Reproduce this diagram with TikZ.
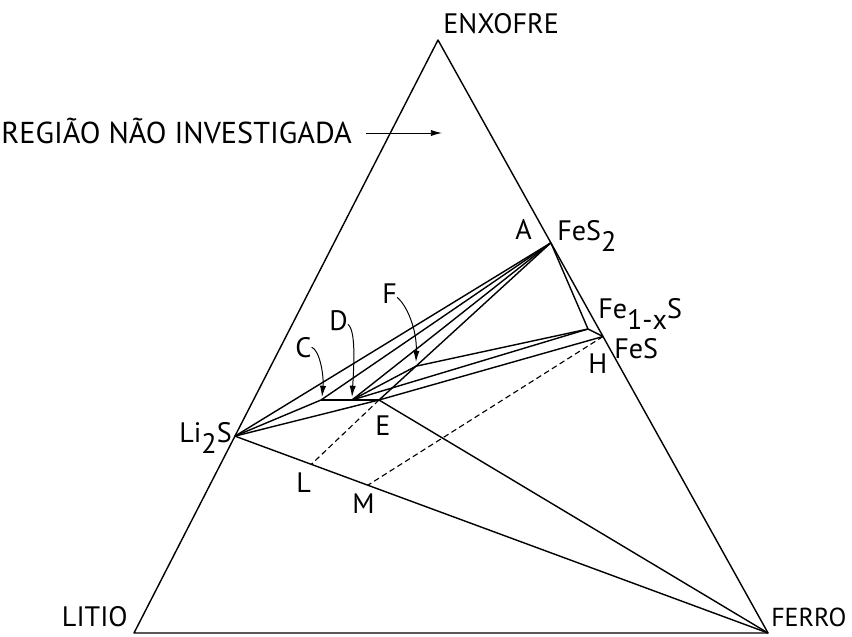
\documentclass[tikz,border=0pt]{standalone}
\usepackage{fontspec}
\setmainfont{PT Sans}
\usetikzlibrary{positioning,arrows.meta,calc}
\newcommand{\indice}[1]{\raisebox{-0.4em}{#1}}
\begin{document}
\begin{tikzpicture}[
	x=0.025cm, y=-0.025cm,
	linha/.style={line width=1pt, line join=round},
	tracejada/.style={line width=0.8pt, dash pattern=on 4pt off 2.5pt},
	seta/.style={line width=0.7pt, -{Latex[length=8pt,width=4.5pt]}},
	rotulo/.style={inner sep=0pt, font=\fontsize{20}{23}\selectfont}
	]
	\useasboundingbox (0,0) rectangle (852,636);
	\coordinate (enxofre) at (438,40);
	\coordinate (litio) at (134,633);
	\coordinate (ferro) at (768,633);
	\coordinate (A) at ($(enxofre)!0.342!(ferro)$);
	\coordinate (H) at ($(enxofre)!0.5!(ferro)$);
	\coordinate (li2s) at ($(enxofre)!0.668!(litio)$);
	\coordinate (fe1xs) at (588,329);
	\coordinate (C) at (321,400);
	\coordinate (D) at (352,400);
	\coordinate (E) at (379,400);
	\coordinate (F) at ($(A)!0.785!(E)$);
	\coordinate (L) at (intersection of li2s--ferro and litio--E);
	\coordinate (M) at (intersection of li2s--ferro and litio--H);

	\draw[linha] (enxofre) -- (ferro) -- (litio) -- cycle;
	\draw[linha] (li2s) -- (ferro);
	\draw[linha] (E) -- (ferro);
	\draw[linha] (li2s) -- (A);
	\draw[linha] (li2s) -- (C);
	\draw[linha] (li2s) -- (E);
	\draw[linha] (C) -- (E);
	\draw[linha] (A) -- (C);
	\draw[linha] (A) -- (D);
	\draw[linha] (A) -- (E);
	\draw[linha] (A) -- (fe1xs) -- (H);
	\draw[linha] (D) -- (F);
	\draw[linha] (D) -- (fe1xs);
	\draw[linha] (F) -- (fe1xs);
	\draw[linha] (E) -- (H);
	\draw[tracejada] (E) -- (L);
	\draw[tracejada] (H) -- (M);

	\node[rotulo, anchor=base west] (tenxofre) at (443,34) {ENXOFRE};
	\node[rotulo, anchor=base east, font=\fontsize{21.5}{24}\selectfont] (tregiao) at (352,144) {REGIÃO NÃO INVESTIGADA};
	\coordinate (pontaregiao) at (442,133);
	\draw[seta] ([xshift=10]tregiao.east |- pontaregiao) -- (pontaregiao);
	\node[rotulo, anchor=base west] (tA) at (515,239) {A};
	\node[rotulo, anchor=base west] (tfes2) at (557,240) {FeS\indice{2}};
	\node[rotulo, anchor=base west] (tfe1xs) at (598,318) {Fe\indice{1-x}S};
	\node[rotulo, anchor=base west] (tfes) at (614,358) {FeS};
	\node[rotulo, anchor=base west] (tH) at (588,373) {H};
	\node[rotulo, anchor=base west] (tF) at (382,303) {F};
	\node[rotulo, anchor=base west] (tD) at (329,330) {D};
	\node[rotulo, anchor=base west] (tC) at (295,357) {C};
	\node[rotulo, anchor=base west] (tE) at (375,435) {E};
	\node[rotulo, anchor=base east] (tli2s) at (232,442) {Li\indice{2}S};
	\node[rotulo, anchor=base west] (tL) at (296,492) {L};
	\node[rotulo, anchor=base west] (tM) at (352,513) {M};
	\node[rotulo, anchor=base east, text depth=0pt] (tlitio) at (128,626) {LITIO};
	\node[rotulo, anchor=base west, text depth=0pt, font=\fontsize{18.5}{22}\selectfont] (tferro) at (771,626) {FERRO};

	\coordinate (pontaC) at (322,397);
	\coordinate (pontaD) at (352,397);
	\coordinate (pontaF) at (416,362);
	\draw[seta] (tC.east) .. controls +(8,3) and (324,375) .. (pontaC);
	\draw[seta] ([yshift=-3]tD.east) .. controls +(8,6) and (354,365) .. (pontaD);
	\draw[seta] ([yshift=-3]tF.east) .. controls +(10,8) and (417,330) .. (pontaF);
\end{tikzpicture}
\end{document}
